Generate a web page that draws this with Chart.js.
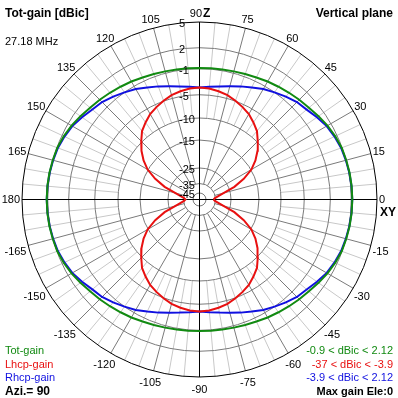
<!DOCTYPE html>
<html>
<head>
<meta charset="utf-8">
<script src="https://cdn.jsdelivr.net/npm/chart.js@4.4.0/dist/chart.umd.min.js"></script>
<style>
    html, body { margin: 0; padding: 0; background: #ffffff; }
    #wrap { width: 398px; height: 398px; }
</style>
</head>
<body>
<div id="wrap"><canvas id="chart" width="398" height="398"></canvas></div>
<script>
// Elevation angles in degrees: 0 = horizon (XY), 90 = zenith (Z), 180 = other horizon, 270 = nadir
const angles = [
    0, 5, 10, 15, 20, 25, 30, 35, 40, 45, 50, 55, 60, 65, 70, 75, 80, 85, 90,
    95, 100, 105, 110, 115, 120, 125, 130, 135, 140, 145, 150, 155, 160, 165, 170, 175, 180,
    185, 190, 195, 200, 205, 210, 215, 220, 225, 230, 235, 240, 245, 250, 255, 260, 265, 270,
    275, 280, 285, 290, 295, 300, 305, 310, 315, 320, 325, 330, 335, 340, 345, 350, 355, 360
];

// Gains in dBic
const totGain = [
    2.12, 2.11, 2.08, 2.02, 1.94, 1.72, 1.43, 1.07, 0.72, 0.47, 0.22, -0.02, -0.22, -0.45, -0.62, -0.74, -0.83, -0.88, -0.9,
    -0.88, -0.83, -0.74, -0.62, -0.45, -0.22, -0.02, 0.22, 0.47, 0.72, 1.07, 1.43, 1.72, 1.94, 2.02, 2.08, 2.11, 2.12,
    2.11, 2.08, 2.02, 1.94, 1.72, 1.43, 1.07, 0.72, 0.47, 0.22, -0.02, -0.22, -0.45, -0.62, -0.74, -0.83, -0.88, -0.9,
    -0.88, -0.83, -0.74, -0.62, -0.45, -0.22, -0.02, 0.22, 0.47, 0.72, 1.07, 1.43, 1.72, 1.94, 2.02, 2.08, 2.11, 2.12
];
const lhcpGain = [
    -37, -35.5, -33, -29, -23, -18.8, -14.9, -13.0, -11.3, -9.8, -8.3, -7.3, -6.3, -5.6, -4.95, -4.5, -4.2, -3.98, -3.9,
    -3.98, -4.2, -4.5, -4.95, -5.6, -6.3, -7.3, -8.3, -9.8, -11.3, -13.0, -14.9, -18.8, -23, -29, -33, -35.5, -37,
    -35.5, -33, -29, -23, -18.8, -14.9, -13.0, -11.3, -9.8, -8.3, -7.3, -6.3, -5.6, -4.95, -4.5, -4.2, -3.98, -3.9,
    -3.98, -4.2, -4.5, -4.95, -5.6, -6.3, -7.3, -8.3, -9.8, -11.3, -13.0, -14.9, -18.8, -23, -29, -33, -35.5, -37
];
const rhcpGain = [
    2.12, 2.1, 2.05, 1.97, 1.85, 1.6, 1.3, 0.8, 0.3, 0.0, -0.5, -1.0, -1.5, -2.1, -2.6, -3.1, -3.45, -3.7, -3.9,
    -3.7, -3.45, -3.1, -2.6, -2.1, -1.5, -1.0, -0.5, 0.0, 0.3, 0.8, 1.3, 1.6, 1.85, 1.97, 2.05, 2.1, 2.12,
    2.1, 2.05, 1.97, 1.85, 1.6, 1.3, 0.8, 0.3, 0.0, -0.5, -1.0, -1.5, -2.1, -2.6, -3.1, -3.45, -3.7, -3.9,
    -3.7, -3.45, -3.1, -2.6, -2.1, -1.5, -1.0, -0.5, 0.0, 0.3, 0.8, 1.3, 1.6, 1.85, 1.97, 2.05, 2.1, 2.12
];

// Radial axis: dB of each ring and its radius as a fraction of the outer ring
const ringDb = [5, 2, -1, -5, -10, -15, -25, -35, -45];
const ringRadius = [1, 0.855, 0.737, 0.590, 0.459, 0.335, 0.1775, 0.090, 0.0366];
const ringLabels = ['5', '2', '-1', '-5', '-10', '-15', '-25', '-35', '-45'];

// Angle tick labels around the outer ring
const angleTicks = [0, 15, 30, 45, 60, 75, 90, 105, 120, 135, 150, 165, 180,
    -165, -150, -135, -120, -105, -90, -75, -60, -45, -30, -15];

const GREEN = '#118a11';
const RED = '#e81010';
const BLUE = '#1010e0';
const FONT = '"Liberation Sans", Arial, sans-serif';

function dbToRadius(db) {
    for (let i = 0; i < ringDb.length - 1; i++) {
        if (db >= ringDb[i + 1]) {
            const t = (db - ringDb[i + 1]) / (ringDb[i] - ringDb[i + 1]);
            return ringRadius[i + 1] + t * (ringRadius[i] - ringRadius[i + 1]);
        }
    }
    return ringRadius[ringRadius.length - 1];
}

function toPoints(values) {
    return values.map((db, i) => {
        const r = dbToRadius(db);
        const t = angles[i] * Math.PI / 180;
        return { x: r * Math.cos(t), y: r * Math.sin(t) };
    });
}

// Polar grid under the curves, labels on top
const polarGrid = {
    id: 'polarGrid',
    beforeDatasetsDraw(chart) {
        const { ctx, scales: { x, y } } = chart;
        const cx = x.getPixelForValue(0);
        const cy = y.getPixelForValue(0);
        const px = v => x.getPixelForValue(v) - cx;
        const R = px(1);

        ctx.save();
        ctx.lineWidth = 1;

        // light 5 degree spokes
        ctx.strokeStyle = '#c8c8c8';
        const rLight = px(dbToRadius(-10));
        for (let a = 0; a < 360; a += 5) {
            if (a % 15 === 0) continue;
            const t = a * Math.PI / 180;
            ctx.beginPath();
            ctx.moveTo(cx + rLight * Math.cos(t), cy - rLight * Math.sin(t));
            ctx.lineTo(cx + R * Math.cos(t), cy - R * Math.sin(t));
            ctx.stroke();
        }

        // dark 15 degree spokes
        ctx.strokeStyle = '#7a7a7a';
        const rDark = px(dbToRadius(-35));
        for (let a = 0; a < 360; a += 15) {
            if (a % 90 === 0) continue;
            const t = a * Math.PI / 180;
            ctx.beginPath();
            ctx.moveTo(cx + rDark * Math.cos(t), cy - rDark * Math.sin(t));
            ctx.lineTo(cx + R * Math.cos(t), cy - R * Math.sin(t));
            ctx.stroke();
        }

        // rings
        for (let i = 1; i < ringDb.length; i++) {
            ctx.beginPath();
            ctx.arc(cx, cy, px(ringRadius[i]), 0, Math.PI * 2);
            ctx.stroke();
        }

        // axes and outer ring
        ctx.strokeStyle = '#000000';
        ctx.beginPath();
        ctx.moveTo(cx - R, cy);
        ctx.lineTo(cx + R, cy);
        ctx.moveTo(cx, cy - R);
        ctx.lineTo(cx, cy + R);
        ctx.stroke();
        ctx.beginPath();
        ctx.arc(cx, cy, R, 0, Math.PI * 2);
        ctx.stroke();
        ctx.restore();
    },
    afterDatasetsDraw(chart) {
        const { ctx, scales: { x, y } } = chart;
        const cx = x.getPixelForValue(0);
        const cy = y.getPixelForValue(0);
        const R = x.getPixelForValue(1) - cx;

        ctx.save();
        ctx.fillStyle = '#000000';
        ctx.font = '11px ' + FONT;

        // ring values along the vertical axis
        ctx.textAlign = 'left';
        ctx.textBaseline = 'middle';
        ringLabels.forEach((txt, i) => {
            ctx.fillText(txt, cx - 20.5, cy - ringRadius[i] * R + 2);
        });

        // angle labels
        ctx.textAlign = 'center';
        angleTicks.forEach(a => {
            if (a === 90) return;
            const t = a * Math.PI / 180;
            const txt = String(a);
            const w = ctx.measureText(txt).width;
            const s = Math.sin(t), c = Math.cos(t);
            const ox = c * (w / 2 + 2);
            const oy = -s * 8 + (s < -0.01 ? 4.5 : 0);
            ctx.fillText(txt, cx + R * c + ox, cy - R * s + oy);
        });
        ctx.textBaseline = 'alphabetic';
        ctx.textAlign = 'right';
        ctx.fillText('90', cx + 2.5, 17);
        ctx.textAlign = 'left';
        ctx.font = 'bold 12px ' + FONT;
        ctx.fillText('Z', cx + 3.5, 17);
        ctx.fillText('XY', 380, 215.5);

        // titles
        ctx.fillText('Tot-gain [dBic]', 5, 17);
        ctx.textAlign = 'right';
        ctx.fillText('Vertical plane', 393, 17);
        ctx.textAlign = 'left';
        ctx.font = '11px ' + FONT;
        ctx.fillText('27.18 MHz', 5, 45);

        // legend, bottom left
        ctx.fillStyle = GREEN;
        ctx.fillText('Tot-gain', 5, 353.5);
        ctx.fillStyle = RED;
        ctx.fillText('Lhcp-gain', 5, 367.5);
        ctx.fillStyle = BLUE;
        ctx.fillText('Rhcp-gain', 5, 381);
        ctx.fillStyle = '#000000';
        ctx.font = 'bold 12px ' + FONT;
        ctx.fillText('Azi.= 90', 5, 395);

        // ranges, bottom right
        ctx.textAlign = 'right';
        ctx.font = '11px ' + FONT;
        ctx.fillStyle = GREEN;
        ctx.fillText('-0.9 < dBic < 2.12', 393, 353.5);
        ctx.fillStyle = RED;
        ctx.fillText('-37 < dBic < -3.9', 393, 367.5);
        ctx.fillStyle = BLUE;
        ctx.fillText('-3.9 < dBic < 2.12', 393, 381);
        ctx.fillStyle = '#000000';
        ctx.font = 'bold 11px ' + FONT;
        ctx.fillText('Max gain Ele:0', 393, 395);
        ctx.restore();
    }
};

const line = (label, values, color, order) => ({
    label: label,
    data: toPoints(values),
    showLine: true,
    borderColor: color,
    borderWidth: 2,
    pointRadius: 0,
    fill: false,
    tension: 0,
    order: order,
});

new Chart(document.getElementById('chart'), {
    type: 'scatter',
    data: {
        datasets: [
            line('Lhcp-gain', lhcpGain, RED, 1),
            line('Tot-gain', totGain, GREEN, 2),
            line('Rhcp-gain', rhcpGain, BLUE, 3),
        ]
    },
    options: {
        responsive: false,
        animation: false,
        events: [],
        layout: { padding: { left: 22, right: 21, top: 22, bottom: 21 } },
        plugins: {
            legend: { display: false },
            tooltip: { enabled: false },
        },
        scales: {
            x: { type: 'linear', min: -1, max: 1, display: false },
            y: { type: 'linear', min: -1, max: 1, display: false },
        },
    },
    plugins: [polarGrid],
});
</script>
</body>
</html>
